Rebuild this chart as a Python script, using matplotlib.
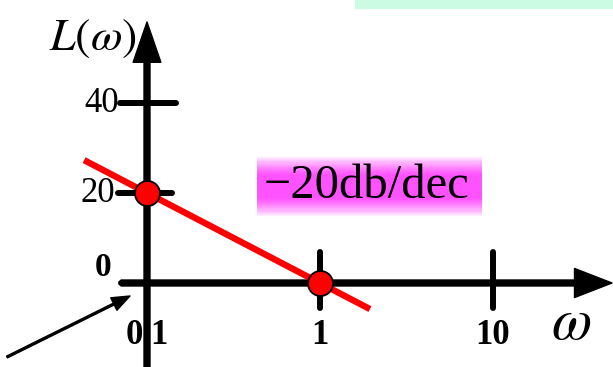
import numpy as np
import matplotlib.pyplot as plt

# figure calibration (pixels)
W, H, DPI = 613, 367, 100
X0, DEC = 320, 173      # pixel of w=1, pixels per decade
Y0, PDB = 283, 4.5      # pixel of 0 dB, pixels per dB

# data
db_ticks   = [20, 40]
db_labels  = ['20', '40']
w_ticks    = [1, 10]
w_lab_pos  = [0.1, 1, 10]
w_labels   = ['0.1', '1', '10']
pts_w      = [0.1, 1]
pts_L      = [20, 0]
asym_w     = [0.0433, 1.945]
asym_L     = [27.3, -5.8]
slope_text = '\u221220db/dec'

plt.rcParams['mathtext.fontset'] = 'stix'


def wx(px):
    return 10 ** ((px - X0) / DEC)


def wy(py):
    return (Y0 - py) / PDB


fig = plt.figure(figsize=(W / DPI, H / DPI), dpi=DPI)
ax = fig.add_axes([0, 0, 1, 1])
ax.set_xscale('log')
ax.set_xlim(wx(0), wx(W))
ax.set_ylim(wy(H), wy(0))
ax.axis('off')

# pale green strip at the top
ax.fill_between([wx(355), wx(W)], wy(9), wy(0), color='#ccfbe3', lw=0, zorder=0)

# magenta gradient box behind slope label
ys = np.linspace(wy(218), wy(155), 60)
mid = (ys[0] + ys[-1]) / 2
half = (ys[-1] - ys[0]) / 2
for y1, y2 in zip(ys[:-1], ys[1:]):
    t = abs((y1 + y2) / 2 - mid) / half
    a = np.clip(1.15 - t ** 2 * 1.25, 0, 1)
    col = (1.0, 1 - 0.68 * a, 1.0)
    ax.fill_between([wx(257), wx(482)], y1, y2, color=col, lw=0, zorder=0)
ax.text(wx(366), wy(186), slope_text, family='Liberation Serif', fontsize=35,
        ha='center', va='center', color='black', zorder=1)

lw = 4.3
# y axis with arrow
ax.annotate('', xy=(0.1, wy(22)), xytext=(0.1, wy(H + 5)),
            arrowprops=dict(width=lw, headwidth=20, headlength=29,
                            facecolor='black', edgecolor='black', shrink=0),
            zorder=3)
# x axis with arrow
ax.plot([wx(121), wx(580)], [0, 0], color='black', lw=lw, solid_capstyle='round', zorder=3)
ax.annotate('', xy=(wx(612), 0), xytext=(wx(121), 0),
            arrowprops=dict(width=lw, headwidth=21, headlength=27,
                            facecolor='black', edgecolor='black', shrink=0),
            zorder=3)

# ticks
for v in db_ticks:
    x_left = wx(120 if v == 40 else 118)
    x_right = wx(176 if v == 40 else 172)
    ax.plot([x_left, x_right], [v, v], color='black', lw=lw, solid_capstyle='round', zorder=3)
for v in w_ticks:
    ax.plot([v, v], [wy(252), wy(308)], color='black', lw=lw, solid_capstyle='round', zorder=3)

# tick labels
for v, s in zip(db_ticks, db_labels):
    ax.text(wx(119 if v == 40 else 115), v, s, family='Liberation Serif', fontsize=25,
            ha='right', va='center', zorder=2)
ax.text(wx(103), wy(267), '0', family='Liberation Serif', fontsize=24,
        fontweight='bold', ha='center', va='center', zorder=2)
for v, s in zip(w_lab_pos, w_labels):
    ax.text(v, wy(336), s, family='Liberation Serif', fontsize=25,
            fontweight='bold', ha='center', va='center', zorder=2)

# axis titles
ax.text(wx(93), wy(38), r'$L(\omega)$', fontsize=33, ha='center', va='center')
ax.text(wx(571), wy(322), r'$\omega$', fontsize=42, ha='center', va='center')

# asymptote and points
ax.plot(asym_w, asym_L, color='red', lw=4.6, solid_capstyle='butt', zorder=4)
ax.plot(pts_w, pts_L, 'o', ms=18, mfc='red', mec='black', mew=1.3, zorder=5)

# pointer arrow
ax.annotate('', xy=(wx(130), wy(296)), xytext=(wx(7), wy(357)),
            arrowprops=dict(width=1.4, headwidth=10, headlength=13,
                            facecolor='black', edgecolor='black', shrink=0),
            zorder=3)

fig.savefig('out.png', dpi=DPI)
